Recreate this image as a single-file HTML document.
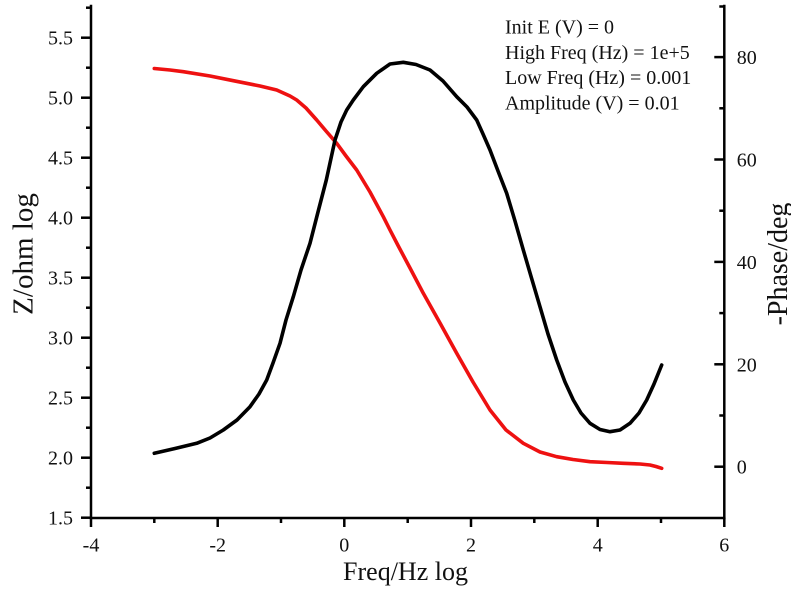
<!DOCTYPE html>
<html>
<head>
<meta charset="utf-8">
<style>
  html, body { margin:0; padding:0; background:#ffffff; }
  body { width:791px; height:590px; overflow:hidden; }
  svg { display:block; }
  text { font-family: "Liberation Serif", "Times New Roman", serif; fill:#111; }
</style>
</head>
<body>
<svg width="791" height="590" viewBox="0 0 791 590" xmlns="http://www.w3.org/2000/svg">
  <rect x="0" y="0" width="791" height="590" fill="#ffffff"/>

  <!-- Axes -->
  <g stroke="#000" stroke-width="2.5" fill="none" stroke-linecap="square">
    <line x1="91" y1="6" x2="91" y2="518"/>
    <line x1="91" y1="518" x2="724.3" y2="518"/>
    <line x1="724.3" y1="6" x2="724.3" y2="518"/>
  </g>

  <!-- Left ticks -->
  <g stroke="#000" stroke-width="2.5">
    <line x1="81" y1="517.7" x2="91" y2="517.7"/>
    <line x1="81" y1="457.7" x2="91" y2="457.7"/>
    <line x1="81" y1="397.7" x2="91" y2="397.7"/>
    <line x1="81" y1="337.7" x2="91" y2="337.7"/>
    <line x1="81" y1="277.7" x2="91" y2="277.7"/>
    <line x1="81" y1="217.7" x2="91" y2="217.7"/>
    <line x1="81" y1="157.7" x2="91" y2="157.7"/>
    <line x1="81" y1="97.7" x2="91" y2="97.7"/>
    <line x1="81" y1="37.7" x2="91" y2="37.7"/>
    <line x1="86" y1="487.7" x2="91" y2="487.7"/>
    <line x1="86" y1="427.7" x2="91" y2="427.7"/>
    <line x1="86" y1="367.7" x2="91" y2="367.7"/>
    <line x1="86" y1="307.7" x2="91" y2="307.7"/>
    <line x1="86" y1="247.7" x2="91" y2="247.7"/>
    <line x1="86" y1="187.7" x2="91" y2="187.7"/>
    <line x1="86" y1="127.7" x2="91" y2="127.7"/>
    <line x1="86" y1="67.7" x2="91" y2="67.7"/>
    <line x1="86" y1="7.7" x2="91" y2="7.7"/>
  </g>
  <g font-size="20" text-anchor="end">
    <text x="73" y="524.7">1.5</text>
    <text x="73" y="464.7">2.0</text>
    <text x="73" y="404.7">2.5</text>
    <text x="73" y="344.7">3.0</text>
    <text x="73" y="284.7">3.5</text>
    <text x="73" y="224.7">4.0</text>
    <text x="73" y="164.7">4.5</text>
    <text x="73" y="104.7">5.0</text>
    <text x="73" y="44.7">5.5</text>
  </g>

  <!-- Bottom ticks -->
  <g stroke="#000" stroke-width="2.5">
    <line x1="91" y1="518" x2="91" y2="527"/>
    <line x1="217.7" y1="518" x2="217.7" y2="527"/>
    <line x1="344.3" y1="518" x2="344.3" y2="527"/>
    <line x1="471" y1="518" x2="471" y2="527"/>
    <line x1="597.7" y1="518" x2="597.7" y2="527"/>
    <line x1="724.3" y1="518" x2="724.3" y2="527"/>
    <line x1="154.3" y1="518" x2="154.3" y2="523"/>
    <line x1="281" y1="518" x2="281" y2="523"/>
    <line x1="407.7" y1="518" x2="407.7" y2="523"/>
    <line x1="534.3" y1="518" x2="534.3" y2="523"/>
    <line x1="661" y1="518" x2="661" y2="523"/>
  </g>
  <g font-size="20" text-anchor="middle">
    <text x="91" y="551.5">-4</text>
    <text x="217.7" y="551.5">-2</text>
    <text x="344.3" y="551.5">0</text>
    <text x="471" y="551.5">2</text>
    <text x="597.7" y="551.5">4</text>
    <text x="724.3" y="551.5">6</text>
  </g>

  <!-- Right ticks -->
  <g stroke="#000" stroke-width="2.5">
    <line x1="714.3" y1="466.7" x2="724.3" y2="466.7"/>
    <line x1="714.3" y1="364.3" x2="724.3" y2="364.3"/>
    <line x1="714.3" y1="261.9" x2="724.3" y2="261.9"/>
    <line x1="714.3" y1="159.5" x2="724.3" y2="159.5"/>
    <line x1="714.3" y1="57.1" x2="724.3" y2="57.1"/>
    <line x1="719.3" y1="415.5" x2="724.3" y2="415.5"/>
    <line x1="719.3" y1="313.1" x2="724.3" y2="313.1"/>
    <line x1="719.3" y1="210.7" x2="724.3" y2="210.7"/>
    <line x1="719.3" y1="108.3" x2="724.3" y2="108.3"/>
    <line x1="719.3" y1="6.5" x2="724.3" y2="6.5"/>
  </g>
  <g font-size="20" text-anchor="start">
    <text x="736.7" y="473.7">0</text>
    <text x="736.7" y="371.3">20</text>
    <text x="736.7" y="268.9">40</text>
    <text x="736.7" y="166.5">60</text>
    <text x="736.7" y="64.1">80</text>
  </g>

  <!-- Axis titles -->
  <text x="405.5" y="580" font-size="26" text-anchor="middle">Freq/Hz log</text>
  <text transform="translate(32.5,254) rotate(-90)" font-size="29" text-anchor="middle">Z/ohm log</text>
  <text transform="translate(787,264) rotate(-90)" font-size="28" text-anchor="middle">-Phase/deg</text>

  <!-- Annotation -->
  <g font-size="20">
    <text x="505" y="33.5">Init E (V) = 0</text>
    <text x="505" y="59">High Freq (Hz) = 1e+5</text>
    <text x="505" y="84">Low Freq (Hz) = 0.001</text>
    <text x="505" y="109.5">Amplitude (V) = 0.01</text>
  </g>

  <!-- Red curve: |Z| log -->
  <polyline fill="none" stroke="#ee1111" stroke-width="3.6" stroke-linejoin="round" stroke-linecap="round"
    points="154.3,68.5 170,70 183.3,71.7 210,76 233.3,80.7 260,86 276.7,90 290,96 296.7,100 306,108 316.7,120 326,131 336.7,143.3 346,156 356.7,170 370,192 383.3,216.7 390,230 398.3,246 410,268 423.3,293.3 440,323 456.7,353.3 473,382 490,410 506,430 523.3,443.3 540,452 556.7,456.7 573,459.5 590,461.7 607,462.5 623.3,463.3 640,464 650,465 656,466.5 661.7,468.3"/>

  <!-- Black curve: phase -->
  <polyline fill="none" stroke="#000" stroke-width="3.6" stroke-linejoin="round" stroke-linecap="round"
    points="154.3,453.3 175,448.5 196.7,443.3 210,438 223.3,430 237,420 250,406.7 259,394 266.7,380 273,363 280,343.3 286,320 293.3,296.7 301,270 310,243.3 318,212 326.3,180 335,140 341,122 346.7,110 353.3,100 363.3,86.7 376.7,73.3 390,64 403.3,62.3 416,64.5 430,70 443,81 456.7,96.7 467,107 476.7,120 483,134 490,150 498,171 506.7,193.3 515,221 523.3,250 531.5,278 540,306.7 548,334 556.7,360 565,382 573.3,400 581,413 590,423.3 600,429.5 610,431.7 620,430 630,423.3 639,413 646.7,400 654,384 661.7,365"/>
</svg>
</body>
</html>
